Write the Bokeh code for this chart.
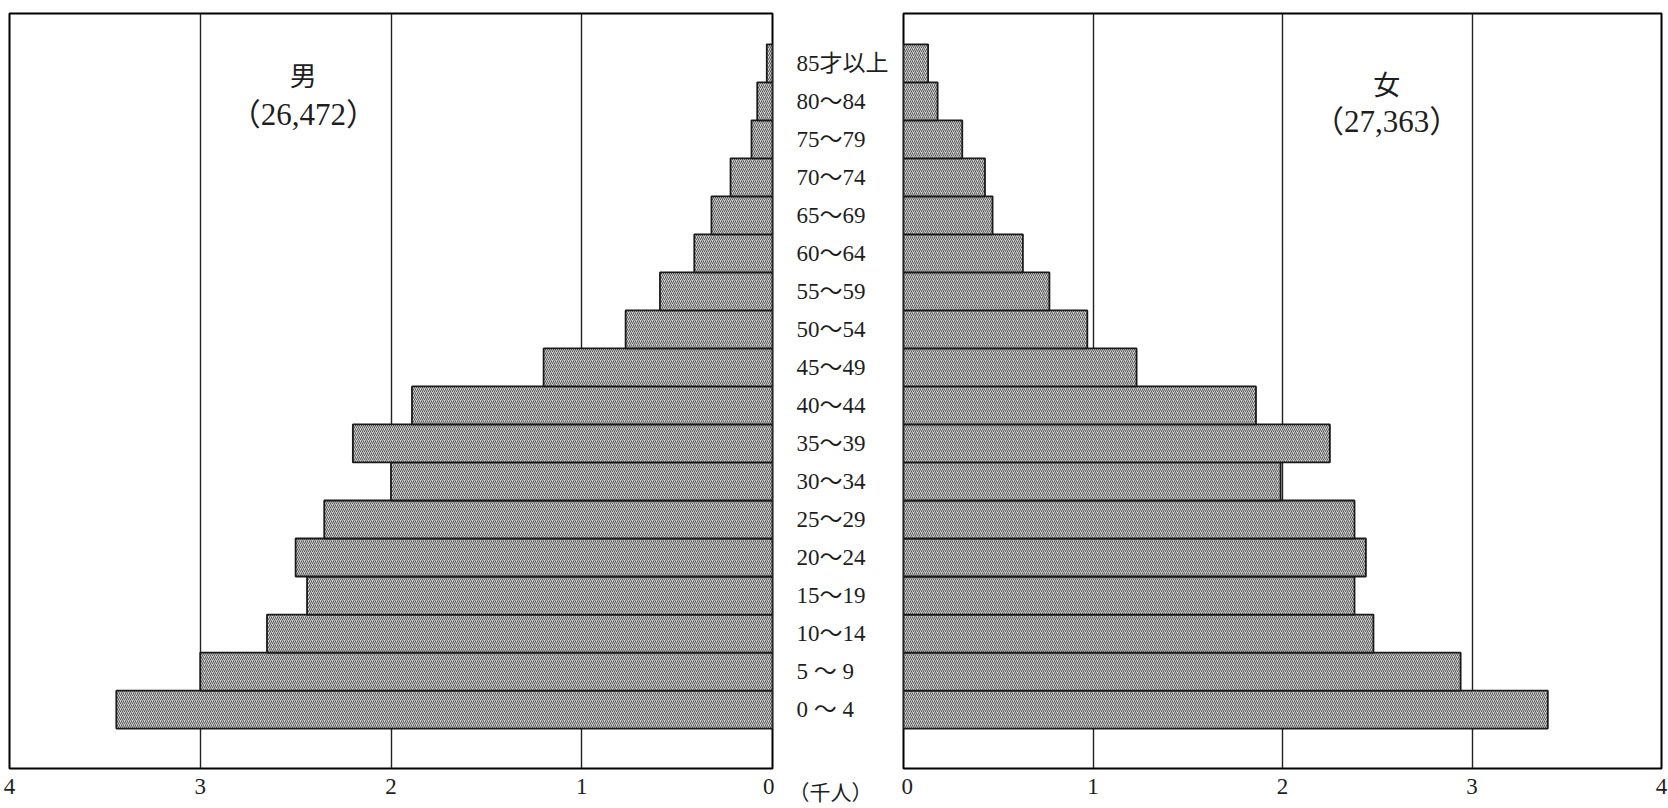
from bokeh.plotting import figure
from bokeh.layouts import row
from bokeh.models import Range1d, FixedTicker, Label
from bokeh.core.properties import value
from bokeh.embed import file_html
from bokeh.resources import INLINE

# ---- data (thousand persons), bottom (0~4) to top (85+) ----
ages = ["0 ～ 4", "5 ～ 9", "10～14", "15～19", "20～24", "25～29", "30～34",
        "35～39", "40～44", "45～49", "50～54", "55～59", "60～64", "65～69",
        "70～74", "75～79", "80～84", "85才以上"]
male = [3.44, 3.00, 2.65, 2.44, 2.50, 2.35, 2.00, 2.20, 1.89, 1.20,
        0.77, 0.59, 0.41, 0.32, 0.22, 0.11, 0.08, 0.03]
female = [3.40, 2.94, 2.48, 2.38, 2.44, 2.38, 1.99, 2.25, 1.86, 1.23,
          0.97, 0.77, 0.63, 0.47, 0.43, 0.31, 0.18, 0.13]
x_ticks = [0, 1, 2, 3, 4]
male_title = "男"
female_title = "女"
male_total = "（26,472）"
female_total = "（27,363）"
unit_label = "（千人）"

idx = list(range(len(ages)))

FONT = "'Liberation Serif', 'Noto Sans CJK JP'"
SERIF = "Liberation Serif"
CJK = "'Noto Sans CJK JP'"
INK = "#1e1e1e"

H = 808
TOP = 13
BOTTOM = 38
Y0, Y1 = -1.55, 18.31
MID_W = 127
UNIT_X = 56


def style_xaxis(ax, font=SERIF, size="23px", standoff=10):
    ax.axis_line_color = None
    ax.major_tick_line_color = None
    ax.minor_tick_line_color = None
    ax.major_tick_out = 0
    ax.major_tick_in = 0
    ax.major_label_standoff = standoff
    ax.major_label_text_font = font
    ax.major_label_text_font_size = size
    ax.major_label_text_color = INK


def style_common(p):
    p.outline_line_color = "black"
    p.outline_line_width = 2
    p.xaxis.ticker = FixedTicker(ticks=x_ticks)
    style_xaxis(p.xaxis)
    p.xgrid.grid_line_color = "#222222"
    p.xgrid.grid_line_width = 1.4
    p.ygrid.grid_line_color = None
    p.background_fill_color = "white"
    p.border_fill_color = "white"


def bars(p, vals):
    p.hbar(y=idx, left=0, right=vals, height=1.0,
           fill_color="#d0d0d0", line_color="#1a1a1a", line_width=1.8,
           hatch_pattern="/", hatch_color="#3a3a3a", hatch_scale=4,
           hatch_weight=1.0, hatch_alpha=0.8)


# ---- left (male) ----
p1 = figure(width=774, height=H, x_range=Range1d(4, 0), y_range=Range1d(Y0, Y1),
            output_backend="svg", toolbar_location=None, y_axis_location=None,
            min_border_left=9, min_border_right=2, min_border_top=TOP,
            min_border_bottom=BOTTOM)
style_common(p1)
bars(p1, male)
p1.add_layout(Label(x=2.46, y=16.71, text=male_title, text_align="center",
                    text_baseline="middle", text_font=CJK, text_font_size="27px",
                    text_color=INK))
p1.add_layout(Label(x=2.46, y=15.66, text=male_total, text_align="center",
                    text_baseline="middle", text_font=FONT, text_font_size="31px",
                    text_color=INK))

# ---- middle (age labels + unit) ----
pm = figure(width=MID_W, height=H, x_range=Range1d(0, MID_W),
            y_range=Range1d(Y0, Y1),
            output_backend="svg", toolbar_location=None, y_axis_location=None,
            min_border_left=0, min_border_right=0, min_border_top=TOP,
            min_border_bottom=BOTTOM)
pm.outline_line_color = None
pm.xgrid.grid_line_color = None
pm.ygrid.grid_line_color = None
pm.xaxis.ticker = FixedTicker(ticks=[UNIT_X])
pm.xaxis.major_label_overrides = {UNIT_X: unit_label}
style_xaxis(pm.xaxis, font=CJK, size="21px", standoff=7)
pm.text(x=[22] * len(ages), y=idx, text=ages, text_align="left",
        text_baseline="middle", text_font=value(FONT),
        text_font_size="23px", text_color=INK)

# ---- right (female) ----
p2 = figure(width=767, height=H, x_range=Range1d(0, 4), y_range=Range1d(Y0, Y1),
            output_backend="svg", toolbar_location=None, y_axis_location=None,
            min_border_left=2, min_border_right=7, min_border_top=TOP,
            min_border_bottom=BOTTOM)
style_common(p2)
bars(p2, female)
p2.add_layout(Label(x=2.55, y=16.47, text=female_title, text_align="center",
                    text_baseline="middle", text_font=CJK, text_font_size="27px",
                    text_color=INK))
p2.add_layout(Label(x=2.55, y=15.48, text=female_total, text_align="center",
                    text_baseline="middle", text_font=FONT, text_font_size="31px",
                    text_color=INK))

layout = row(p1, pm, p2, spacing=0)
open("out.html", "w").write(file_html(layout, INLINE))
